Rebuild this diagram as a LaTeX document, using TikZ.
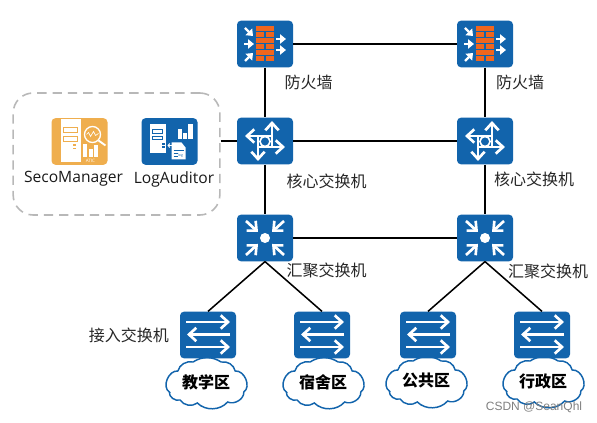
\documentclass[tikz,border=0pt]{standalone}
\usepackage{fontspec}
\setmainfont{Open Sans}
\newfontfamily\cjk{Noto Sans CJK SC}
\newfontfamily\arialf{Liberation Sans}
\usetikzlibrary{arrows.meta}
\definecolor{hwblue}{HTML}{1264AC}
\definecolor{hworange}{HTML}{F0661E}
\definecolor{hwyellow}{HTML}{EFAE4E}
\tikzset{
  x=0.75pt,y=-0.75pt,
  iconbox/.style={draw=none,fill=hwblue,rounded corners=3pt,minimum width=42pt,minimum height=35pt,inner sep=0pt},
  yellowbox/.style={iconbox,fill=hwyellow},
  wline/.style={draw=white,line width=2pt},
  warrow/.style={wline,-{Straight Barb[length=5.5pt,width=10pt,line width=2pt]}},
  warrows/.style={draw=white,line width=1.8pt,-{Triangle[length=4.5pt,width=7pt]}},
  link/.style={draw=black,line width=1.5pt},
  slant/.style={draw=black,line width=1.15pt},
  lab/.style={font=\cjk\fontsize{12}{14}\selectfont,text=black!85,inner sep=0pt},
  latinlab/.style={font=\fontsize{11.7}{14}\selectfont,text=black!90,inner sep=0pt},
  zonetext/.style={font=\cjk\bfseries\fontsize{12}{14}\selectfont,text=black,inner sep=0pt},
  zoneline/.style={draw=hwblue,fill=white,line width=1.1pt},
  brick/.style={fill=hworange,draw=none},
}
\newcommand{\cloudzone}[3]{%
  \node[zonetext] (#1) at (#2) {};
  \begin{scope}[shift={(#1.center)},xscale=1.08]
    \path[zoneline] (-34,10) to[bend left=75] (-26,-11) to[bend left=45] (-12,-20)
      to[bend left=35] (14,-20) to[bend left=45] (27,-11) to[bend left=75] (35,10)
      to[bend left=60] (20,20) to[bend left=50] (-8,21) to[bend left=50] (-24,18)
      to[bend left=55] cycle;
  \end{scope}
  \node[zonetext] at (#1.center) {#3};}
\newcommand{\fwicon}[2]{%
  \node[iconbox] (#1) at (#2) {};
  \begin{scope}[shift={(#1.center)}]
    \foreach \yy in {-18,-6,6} {
      \fill[brick] (-9,\yy) rectangle (9,\yy+5.4);
      \fill[brick] (-9,\yy+6.4) rectangle (-0.7,\yy+11.2);
      \fill[brick] (0.7,\yy+6.4) rectangle (9,\yy+11.2);
    }
    \draw[warrows] (-20,-16) -- (-12,-8);
    \draw[warrows] (-21,0) -- (-11,0);
    \draw[warrows] (-20,17) -- (-12,9);
    \draw[warrows] (11,-5) -- (21,-5);
    \draw[warrows] (11,6) -- (21,6);
  \end{scope}}
\newcommand{\coreicon}[2]{%
  \node[iconbox] (#1) at (#2) {};
  \begin{scope}[shift={(#1.center)}]
    \draw[warrow] (7,7) -- (7,-20);
    \draw[warrow] (-7,-6) -- (-7,20);
    \draw[warrow] (7,-5) -- (-20,-5);
    \draw[warrow] (-7,6) -- (20,6);
    \fill[hwblue] (0,0.5) circle (4.5);
    \draw[white,line width=1.2pt] (0,0.5) circle (5);
  \end{scope}}
\newcommand{\aggicon}[2]{%
  \node[iconbox] (#1) at (#2) {};
  \begin{scope}[shift={(#1.center)}]
    \fill[white] (0,0) circle (5);
    \draw[warrow] (-19,-17) -- (-7,-6);
    \draw[warrow] (19,-17) -- (7,-6);
    \draw[warrow] (-19,17) -- (-7,6);
    \draw[warrow] (19,17) -- (7,6);
  \end{scope}}
\newcommand{\accicon}[2]{%
  \node[iconbox] (#1) at (#2) {};
  \begin{scope}[shift={(#1.center)}]
    \draw[warrow] (-22,-13) -- (22,-13);
    \draw[warrow] (22,-0.5) -- (-21,-0.5);
    \draw[warrow] (-22,12) -- (22,12);
  \end{scope}}
\begin{document}
\begin{tikzpicture}
\useasboundingbox (0,0) rectangle (597,423);
% clouds
\cloudzone{z1}{206,382}{教学区}
\cloudzone{z2}{323,382}{宿舍区}
\cloudzone{z3}{426,381}{公共区}
\cloudzone{z4}{543,381}{行政区}
% network devices
\fwicon{fwa}{265,44}
\fwicon{fwb}{485,44}
\coreicon{corea}{265,141}
\coreicon{coreb}{485,141}
\aggicon{agga}{265,238}
\aggicon{aggb}{485,238}
\accicon{acca}{208,335}
\accicon{accb}{322,335}
\accicon{accc}{428,335}
\accicon{accd}{542,335}
% dashed management zone
\node[draw=black!28,dashed,dash pattern=on 7pt off 4.5pt,line width=1.2pt,rounded corners=15pt,minimum width=155pt,minimum height=91.5pt,inner sep=0pt] (mgmt) at (116.5,154) {};
% SecoManager icon
\node[yellowbox] (seco) at (79.5,141.5) {};
\begin{scope}[shift={(seco.center)}]
  \fill[white] (-19,-22) rectangle (1,21);
  \draw[hwyellow,line width=0.7pt] (-16.5,-14.5) rectangle (-2,-9);
  \draw[hwyellow,line width=0.7pt] (-16.5,-5.5) rectangle (-2,0);
  \fill[hwyellow] (-6.5,3) rectangle (-3.5,4.5);
  \fill[hwyellow] (-6.5,6.5) rectangle (-3.5,8);
  \draw[white,line width=1pt] (13,-7) circle (8);
  \draw[white,line width=0.5pt] (7,-7) -- (9,-9) -- (11,-5) -- (14,-10) -- (16,-6) -- (19,-8);
  \draw[white,line width=1.4pt] (19,-1) -- (26,4);
  \fill[white] (3.5,3) rectangle (7.5,16);
  \fill[white] (9,8) rectangle (13,16);
  \fill[white] (14.5,4) rectangle (18,16);
  \node[text=white,font=\fontsize{3.4}{4}\selectfont,inner sep=0pt] (atic) at (11,19.5) {ATIC};
\end{scope}
% LogAuditor icon
\node[iconbox] (logaud) at (169.5,141.5) {};
\begin{scope}[shift={(logaud.center)}]
  \fill[white] (-20,-17) rectangle (-4,12);
  \draw[hwblue,line width=0.7pt] (-17.5,-12) rectangle (-7,-8.5);
  \draw[hwblue,line width=0.7pt] (-17.5,-5.5) rectangle (-7,-2);
  \fill[hwblue] (-7.5,2) rectangle (-5,3.2);
  \fill[hwblue] (-7.5,5) rectangle (-5,6.2);
  \fill[white] (8,-12) rectangle (12,-2);
  \fill[white] (13.5,-8) rectangle (17,-2);
  \fill[white] (18.5,-17) rectangle (23,-2);
  \fill[white] (2,1) -- (12,1) -- (16,6) -- (16,18) -- (2,18) -- cycle;
  \draw[hwblue,line width=0.4pt] (4,9) -- (14,9) (4,12) -- (8,12) (4,15) -- (8,15);
  \node[text=hwblue,font=\fontsize{2.6}{3}\selectfont,inner sep=0pt] (logtxt) at (11,14) {log};
  \draw[white,line width=0.8pt,-{Straight Barb[length=1.2pt,width=3pt]}] (5,4) -- (-2,4);
\end{scope}
% connectors
\draw[link] (fwa) -- (fwb);
\draw[link] (corea) -- (coreb);
\draw[link] (agga) -- (aggb);
\draw[link] (fwa) -- (corea);
\draw[link] (fwb) -- (coreb);
\draw[link] (corea) -- (agga);
\draw[link] (coreb) -- (aggb);
\draw[link] (mgmt.east |- corea.west) -- (corea.west);
\draw[slant] (agga.south) -- (acca.north);
\draw[slant] (agga.south) -- (accb.north);
\draw[slant] (aggb.south) -- (accc.north);
\draw[slant] (aggb.south) -- (accd.north);
% labels
\node[lab] (l1) at (308.5,82) {防火墙};
\node[lab] (l2) at (520,82) {防火墙};
\node[lab] (l3) at (326.5,181) {核心交换机};
\node[lab] (l4) at (534,179) {核心交换机};
\node[lab] (l5) at (326.5,270.5) {汇聚交换机};
\node[lab] (l6) at (548,271) {汇聚交换机};
\node[lab] (l7) at (129,335) {接入交换机};
\node[latinlab] (l8) at (73.5,179) {SecoManager};
\node[latinlab] (l9) at (174,179) {LogAuditor};
\node[text=black!50,font=\arialf\fontsize{9}{10}\selectfont,inner sep=0pt] (wm) at (534,407) {CSDN @SeanQhl};
\end{tikzpicture}
\end{document}
